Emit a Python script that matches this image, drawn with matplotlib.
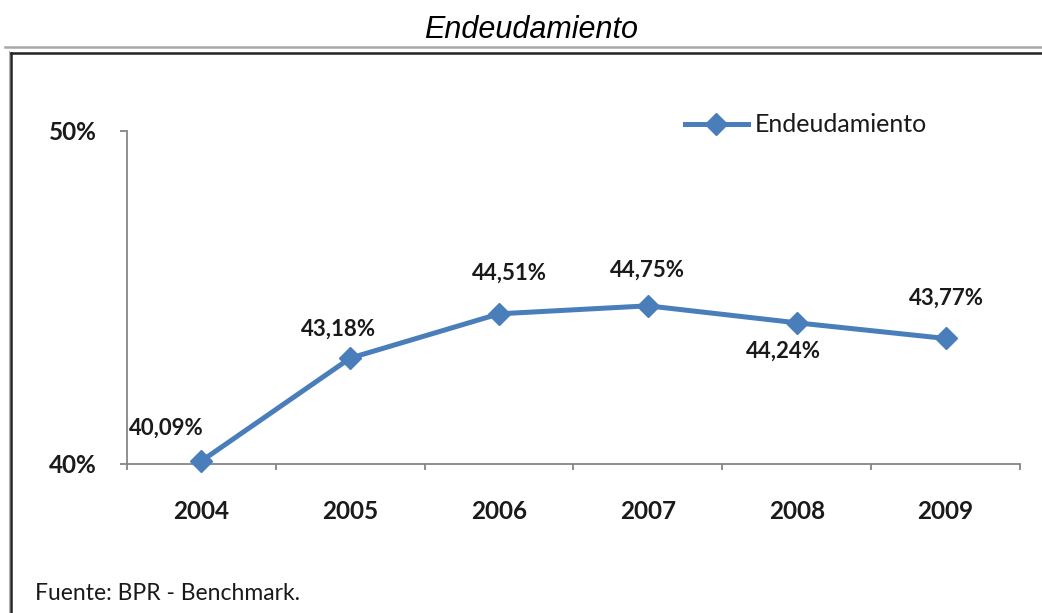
import matplotlib
matplotlib.use("Agg")
import matplotlib.pyplot as plt
from matplotlib.lines import Line2D

# Data
years = ["2004", "2005", "2006", "2007", "2008", "2009"]
endeudamiento = [40.09, 43.18, 44.51, 44.75, 44.24, 43.77]
value_labels = ["40,09%", "43,18%", "44,51%", "44,75%", "44,24%", "43,77%"]
y_ticks = [40, 50]
y_tick_labels = ["40%", "50%"]
series_name = "Endeudamiento"
title = "Endeudamiento"
source = "Fuente: BPR - Benchmark."

# Label offsets (pixels) relative to each point
label_offsets = [(-35, 33), (-12, 29), (10, 41), (0, 36), (-13, -28), (1, 40)]

W, H = 1042, 613
DPI = 100
LINE_COLOR = "#4A7EBB"
AXIS_COLOR = "#868686"
TEXT_COLOR = "#1a1a1a"

plt.rcParams["font.family"] = ["Lato", "DejaVu Sans"]

fig = plt.figure(figsize=(W / DPI, H / DPI), dpi=DPI)


def fx(px):
    return px / W


def fy(py):
    return 1 - py / H


# Plot area
ax = fig.add_axes([fx(127), fy(464), fx(1020) - fx(127), fy(131) - fy(464)])
x = list(range(len(years)))
ax.plot(x, endeudamiento, color=LINE_COLOR, lw=3.6, marker="D", ms=11,
        markerfacecolor=LINE_COLOR, markeredgecolor=LINE_COLOR,
        solid_joinstyle="round", label=series_name, clip_on=False, zorder=3)

for xi, yi, lab, (dx, dy) in zip(x, endeudamiento, value_labels, label_offsets):
    ax.annotate(lab, (xi, yi), xytext=(dx, dy), textcoords="offset pixels",
                ha="center", va="center", fontsize=16, fontweight="bold",
                color=TEXT_COLOR)

ax.set_xlim(-0.5, len(years) - 0.5)
ax.set_ylim(40, 50)

for s in ("top", "right"):
    ax.spines[s].set_visible(False)
for s in ("left", "bottom"):
    ax.spines[s].set_color(AXIS_COLOR)
    ax.spines[s].set_linewidth(1.3)

# X axis: boundary ticks without labels, category labels centered
ax.set_xticks([i - 0.5 for i in range(len(years) + 1)])
ax.set_xticklabels([])
ax.set_xticks(x, minor=True)
ax.set_xticklabels(years, minor=True, fontsize=17.5, fontweight="bold",
                   color=TEXT_COLOR)
ax.tick_params(axis="x", which="major", direction="out", length=4.5,
               width=1.3, color=AXIS_COLOR)
ax.tick_params(axis="x", which="minor", length=0, pad=26)

ax.set_yticks(y_ticks)
ax.set_yticklabels(y_tick_labels, fontsize=17.5, fontweight="bold",
                   color=TEXT_COLOR)
ax.tick_params(axis="y", direction="out", length=5, width=1.3,
               color=AXIS_COLOR, pad=17)

leg = ax.legend(loc="center left", bbox_to_anchor=(fx(685), fy(125)),
                bbox_transform=fig.transFigure, frameon=False, borderpad=0,
                borderaxespad=0, handlelength=2.5, handletextpad=0.3,
                prop={"family": ["Lato", "DejaVu Sans"], "size": 18})
for t in leg.get_texts():
    t.set_color(TEXT_COLOR)

# Title
fig.text(fx(531), fy(30), title, ha="center", va="center", fontsize=22,
         style="italic", family=["Liberation Sans", "DejaVu Sans"],
         color="black")

# Frame around the chart
fig.add_artist(Line2D([fx(5), 1], [fy(47), fy(47)], color="#a8a8a8", lw=1.8))
fig.add_artist(Line2D([fx(11), 1], [fy(53), fy(53)], color="#222222", lw=1.8))
fig.add_artist(Line2D([fx(11), fx(11)], [fy(53), 0], color="#222222", lw=1.8))
fig.add_artist(Line2D([fx(8.5), fx(8.5)], [fy(51), 0], color="#b0b0b0", lw=0.8))

# Source note
fig.text(fx(35), fy(593), source, ha="left", va="center", fontsize=16.5,
         color=TEXT_COLOR)

fig.savefig("out.png", dpi=DPI, facecolor="white")
